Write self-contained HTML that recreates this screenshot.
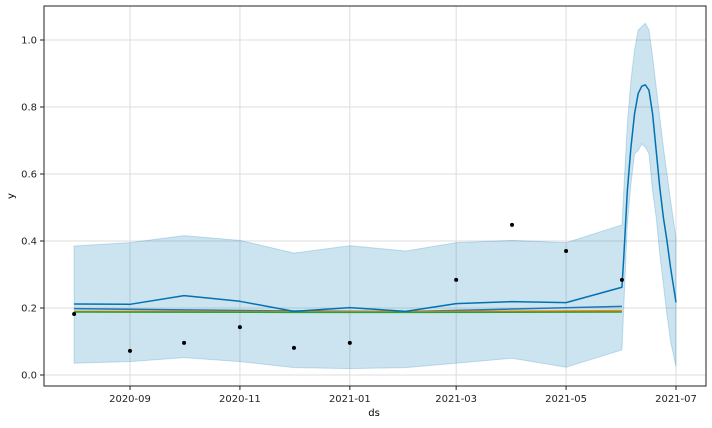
<!DOCTYPE html>
<html><head><meta charset="utf-8"><style>
body{margin:0;background:#fff;font-family:"DejaVu Sans","Liberation Sans",sans-serif}
</style></head><body>
<svg id="chart" width="712" height="424" font-family="DejaVu Sans, Liberation Sans, sans-serif" font-size="10">
<g id="grid"></g>
<g id="plot"></g>
<rect x="44" y="6" width="662" height="380" fill="none" stroke="#222" stroke-width="1"/>
<g id="ticks"></g>
<text x="374" y="416" text-anchor="middle">ds</text>
<text x="14" y="196" text-anchor="middle" transform="rotate(-90 14 196)">y</text>
</svg>
<script>
const obsDates=["2020-08-01","2020-09-01","2020-10-01","2020-11-01","2020-12-01","2021-01-01","2021-03-01","2021-04-01","2021-05-01","2021-06-01"];
const obsValues=[0.182,0.072,0.096,0.143,0.081,0.096,0.284,0.448,0.370,0.284];
const fcDates=["2020-08-01","2020-09-01","2020-10-01","2020-11-01","2020-12-01","2021-01-01","2021-02-01","2021-03-01","2021-04-01","2021-05-01","2021-06-01","2021-06-02","2021-06-04","2021-06-06","2021-06-08","2021-06-10","2021-06-12","2021-06-14","2021-06-16","2021-06-18","2021-06-20","2021-06-22","2021-06-24","2021-06-26","2021-06-28","2021-07-01"];
const yhat=[0.212,0.211,0.237,0.220,0.190,0.201,0.190,0.213,0.219,0.216,0.262,0.35,0.55,0.68,0.78,0.84,0.862,0.866,0.85,0.78,0.67,0.56,0.47,0.40,0.32,0.217];
const yUpper=[0.385,0.395,0.416,0.402,0.364,0.386,0.370,0.395,0.402,0.395,0.448,0.55,0.75,0.88,0.97,1.03,1.04,1.05,1.03,0.95,0.86,0.77,0.68,0.60,0.52,0.41];
const yLower=[0.035,0.040,0.052,0.040,0.022,0.019,0.022,0.035,0.050,0.023,0.075,0.20,0.45,0.57,0.66,0.67,0.69,0.68,0.66,0.55,0.47,0.36,0.27,0.18,0.10,0.025];
const trendDates=["2020-08-01","2020-12-01","2021-02-01","2021-06-01"];
const trendBlue=[0.198,0.191,0.189,0.205];
const trendOrange=[0.190,0.189,0.189,0.192];
const trendGreen=[0.188,0.187,0.187,0.188];
const xTicks=["2020-09","2020-11","2021-01","2021-03","2021-05","2021-07"];
const yTicks=[0,0.2,0.4,0.6,0.8,1.0];

const NS="http://www.w3.org/2000/svg";
const t0=Date.UTC(2020,8,1), pxPerDay=546/303;
function x(d){const p=d.split("-");const t=Date.UTC(+p[0],+p[1]-1,p[2]?+p[2]:1);return 130+(t-t0)/864e5*pxPerDay;}
function y(v){return 375-v*335;}
function mk(tag,attrs,parent){const e=document.createElementNS(NS,tag);for(const k in attrs)e.setAttribute(k,attrs[k]);parent.appendChild(e);return e;}
const grid=document.getElementById("grid"),plot=document.getElementById("plot"),ticks=document.getElementById("ticks");
xTicks.forEach(t=>{const X=x(t);
 const g=mk("line",{x1:X,x2:X,y1:6,y2:386,stroke:"#ddd","stroke-width":1},grid);
 
 
 const tk=mk("line",{x1:X,x2:X,y1:386,y2:390,stroke:"#222"},ticks);
 
 
 const tx=mk("text",{x:X,y:402,"text-anchor":"middle",fill:"#222"},ticks);tx.textContent=t;
 
 
});
yTicks.forEach(v=>{const Y=y(v);
 const g=mk("line",{x1:44,x2:706,y1:Y,y2:Y,stroke:"#ddd","stroke-width":1},grid);
 
 
 const tk=mk("line",{x1:40,x2:44,y1:Y,y2:Y,stroke:"#222"},ticks);
 
 
 const tx=mk("text",{x:37,y:Y+3.5,"text-anchor":"end",fill:"#222"},ticks);tx.textContent=v.toFixed(1);
 
 
});
let d="";fcDates.forEach((t,i)=>{d+=(i?"L":"M")+x(t)+","+y(yUpper[i]);});
for(let i=fcDates.length-1;i>=0;i--)d+="L"+x(fcDates[i])+","+y(yLower[i]);
const band=mk("path",{d:d+"Z",fill:"#0072B2","fill-opacity":0.2,stroke:"#0072B2","stroke-opacity":0.2},plot);


function line(dates,vals,color,w,name){const p=mk("polyline",{points:dates.map((t,i)=>x(t)+","+y(vals[i])).join(" "),fill:"none",stroke:color,"stroke-width":w,"stroke-linejoin":"round"},plot);
 
 }
line(trendDates,trendBlue,"#1f77b4",1.5,"trend-blue");
line(trendDates,trendOrange,"#ff7f0e",1.5,"trend-orange");
line(trendDates,trendGreen,"#2ca02c",1.5,"trend-green");
line(fcDates,yhat,"#0072B2",1.5,"forecast-line");
obsDates.forEach((t,i)=>{const c=mk("circle",{cx:x(t),cy:y(obsValues[i]),r:2,fill:"#000"},plot);
 
 });
</script>
</body></html>
